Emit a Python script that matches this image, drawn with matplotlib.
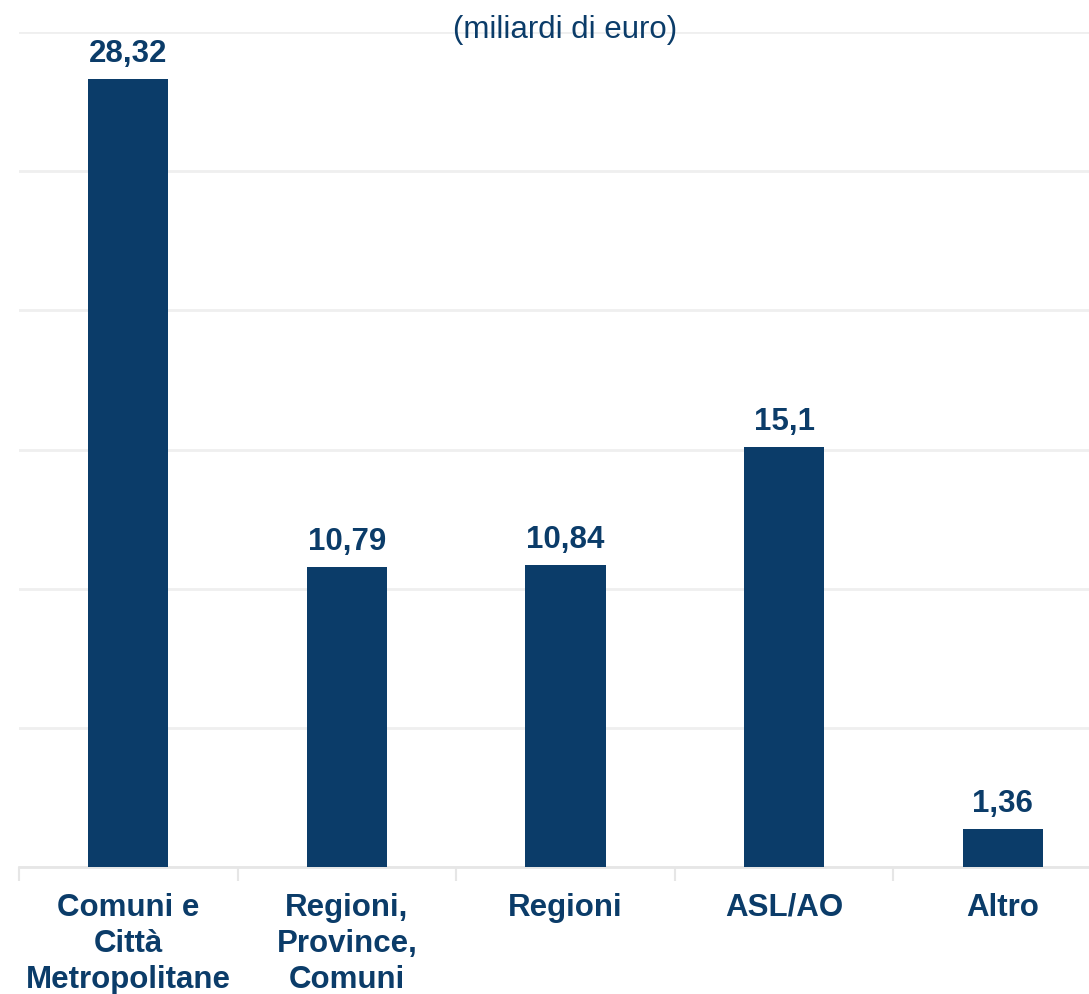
import matplotlib
matplotlib.use("Agg")
import matplotlib.pyplot as plt
from numpy import arange

# Data
categories = ["Comuni e\nCittà\nMetropolitane", "Regioni,\nProvince,\nComuni", "Regioni", "ASL/AO", "Altro"]
values = [28.32, 10.79, 10.84, 15.1, 1.36]
value_labels = ["28,32", "10,79", "10,84", "15,1", "1,36"]

navy = "#0B3C69"
grid_col = "#EFEFEF"

plt.rcParams['font.family'] = ['Liberation Sans', 'DejaVu Sans']

fig = plt.figure(figsize=(10.89, 9.95), dpi=100)
ax = fig.add_axes([19 / 1089, 127 / 995, 1093 / 1089, 835 / 995])

x = arange(len(categories))
ax.bar(x, values, width=0.366, color=navy, zorder=3)

for xi, v, lab in zip(x, values, value_labels):
    ax.annotate(lab, (xi, v), xytext=(0, 13), textcoords="offset points",
                ha="center", va="baseline", fontsize=22.5, fontweight="bold", color=navy)

ax.set_xlim(-0.5, len(categories) - 0.5)
ax.set_ylim(0, 30)
ax.set_yticks(arange(0, 31, 5))
ax.yaxis.grid(True, color=grid_col, linewidth=2, zorder=0)
ax.tick_params(axis="y", left=False, labelleft=False)

ax.set_xticks(x)
ax.set_xticklabels(categories, fontsize=22.5, fontweight="bold", color=navy, linespacing=1.26)
ax.set_xticks(arange(-0.5, len(categories), 1), minor=True)
ax.tick_params(axis="x", which="major", length=0, pad=18)
ax.tick_params(axis="x", which="minor", length=10, width=1.5, color="#E6E6E6")

for s in ["top", "right", "left"]:
    ax.spines[s].set_visible(False)
ax.spines["bottom"].set_color("#E6E6E6")
ax.spines["bottom"].set_linewidth(2)

fig.text(565 / 1089, 1 - 30 / 995, "(miliardi di euro)", ha="center", va="center",
         fontsize=22.5, color=navy)

fig.savefig("out.png", dpi=100)
